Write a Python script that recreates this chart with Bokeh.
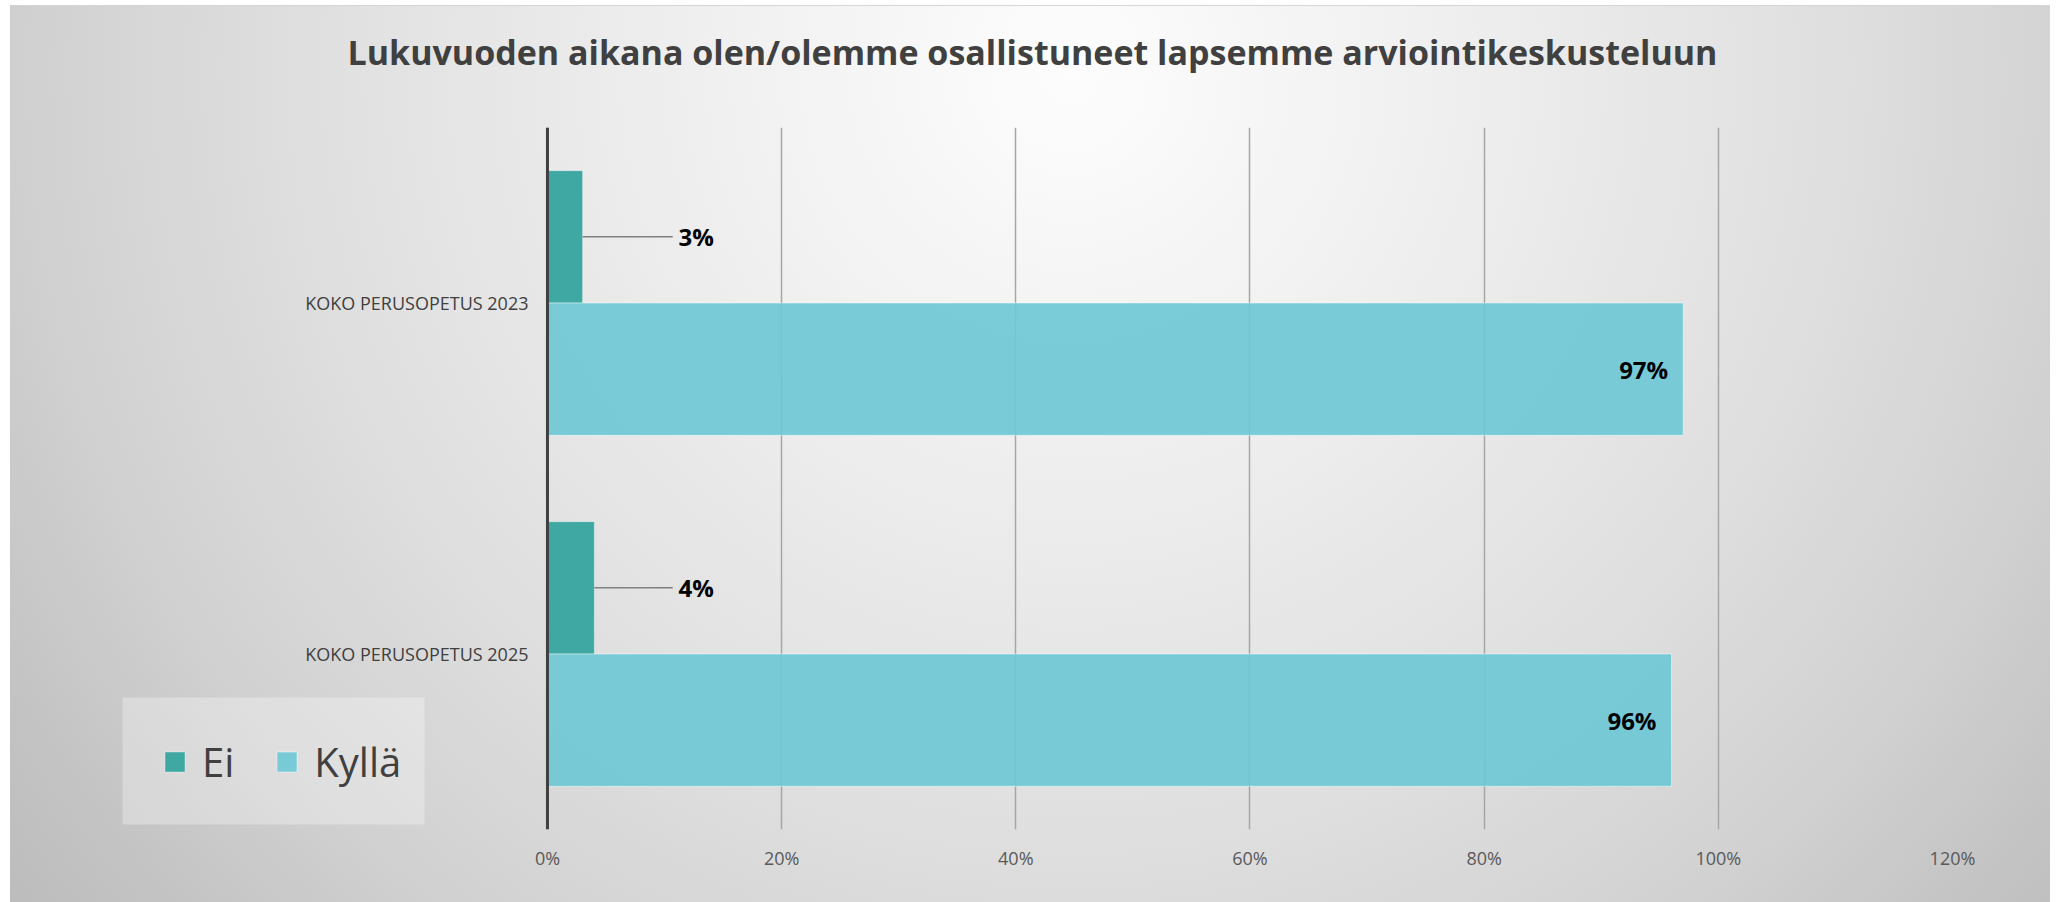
from bokeh.plotting import figure
from bokeh.models import (ColumnDataSource, FactorRange, Range1d, FixedTicker,
                          NumeralTickFormatter, Legend, LegendItem, Title, LinearAxis,
                          Span, BoxAnnotation)
from bokeh.transform import dodge
from bokeh.core.properties import value
from bokeh.embed import file_html
from bokeh.resources import INLINE

# ---------------- data ----------------
title_text = "Lukuvuoden aikana olen/olemme osallistuneet lapsemme arviointikeskusteluun"
categories = ["KOKO PERUSOPETUS 2023", "KOKO PERUSOPETUS 2025"]
series_names = ["Ei", "Kyllä"]
ei_values = [0.03, 0.04]
kylla_values = [0.97, 0.96]
x_ticks = [0.0, 0.2, 0.4, 0.6, 0.8, 1.0, 1.2]

# ---------------- layout constants ----------------
FONT = "Open Sans"
EI_COLOR = "#3fa8a3"
KYLLA_COLOR = "#6fc9d5"
BAR_H = 0.377
OFF = 0.1885
X_START = -0.3732    # room left of 0% for category labels and legend
LEADER_END = 0.107   # where the Ei leader line ends (axis units)
LABEL_X = 0.112      # where the Ei label starts (axis units)

src = ColumnDataSource(dict(
    cat=categories,
    zero=[0.0] * len(categories),
    ei=ei_values,
    kylla=kylla_values,
    ei_lbl=[f"{v:.0%}" for v in ei_values],
    kylla_lbl=[f"{v:.0%}" for v in kylla_values],
))

y_range = FactorRange(factors=categories[::-1])
p = figure(width=2058, height=902, y_range=y_range, x_range=Range1d(X_START, 1.2),
           output_backend="svg", toolbar_location=None, title=None,
           y_axis_location=None,
           min_border_left=110, min_border_right=106,
           min_border_top=127, min_border_bottom=73)

p.styles = {
    "background": "radial-gradient(circle at 52% 8%, #fdfdfd 0%, #efefef 28%, #e0e0e0 55%, #d2d2d2 75%, #c2c2c2 92%, #bcbcbc 100%)",
    "box-shadow": "inset 10px 5px 0 0 #ffffff, inset -8px 0 0 0 #ffffff, inset 10px 6px 0 0 #d4d4d4",
}
p.background_fill_alpha = 0
p.border_fill_alpha = 0
p.outline_line_color = None

# the real (bottom) x axis
xa = p.below[0]
xa.ticker = FixedTicker(ticks=x_ticks)
xa.formatter = NumeralTickFormatter(format="0%")
xa.axis_line_color = None
xa.major_tick_line_color = None
xa.minor_tick_line_color = None
xa.major_tick_out = 0
xa.major_tick_in = 0
xa.minor_tick_out = 0
xa.minor_tick_in = 0
xa.major_label_standoff = 16
xa.major_label_text_font = FONT
xa.major_label_text_font_size = "18px"
xa.major_label_text_color = "#595959"

# invisible spacer between frame and title (a blank top axis), then the title
spacer = LinearAxis(ticker=FixedTicker(ticks=[X_START]), major_tick_out=53, major_tick_in=0,
                    minor_tick_out=0, minor_tick_in=0, major_label_standoff=0,
                    major_label_text_color=None,
                    axis_line_color=None,
                    major_tick_line_color="#ffffff", major_tick_line_alpha=0.01,
                    minor_tick_line_color=None)
p.add_layout(spacer, "above")
p.add_layout(Title(text=title_text, align="left", offset=237, standoff=0,
                   text_font=FONT, text_font_size="34px", text_font_style="bold",
                   text_color="#404040"), "above")

# bars
r_ei = p.hbar(y=dodge("cat", OFF, range=y_range), left="zero", right="ei", height=BAR_H,
              source=src, fill_color=EI_COLOR, line_color="white", line_alpha=0.35, line_width=1)
r_ky = p.hbar(y=dodge("cat", -OFF, range=y_range), left="zero", right="kylla", height=BAR_H,
              source=src, fill_color=KYLLA_COLOR, fill_alpha=0.92,
              line_color="white", line_alpha=0.45, line_width=1)

# leader lines + labels for Ei
p.segment(x0="ei", y0=dodge("cat", OFF, range=y_range), x1=LEADER_END,
          y1=dodge("cat", OFF, range=y_range), source=src,
          line_color="#808080", line_width=1.5)
p.text(x=LABEL_X, y=dodge("cat", OFF, range=y_range), text="ei_lbl", source=src,
       text_font=value(FONT), text_font_style="bold", text_font_size="24px",
       text_color="black", text_align="left", text_baseline="middle")
# labels for Kyllä (inside end)
p.text(x="kylla", y=dodge("cat", -OFF, range=y_range), text="kylla_lbl", source=src,
       x_offset=-15, text_font=value(FONT), text_font_style="bold", text_font_size="24px",
       text_color="black", text_align="right", text_baseline="middle")

# category labels, next to the 0% axis line
p.text(x="zero", y="cat", text="cat", source=src, x_offset=-19,
       text_font=value(FONT), text_font_size="18px", text_color="#404040",
       text_align="right", text_baseline="middle")

# vertical axis line at 0 %
p.add_layout(Span(location=0, dimension="height", line_color="#404040", line_width=3))

p.xgrid.ticker = FixedTicker(ticks=x_ticks)
p.xgrid.grid_line_color = "#a6a6a6"
p.xgrid.grid_line_width = 1.5
p.ygrid.grid_line_color = None

# legend box + legend (inside the frame, left of the axis)
p.add_layout(BoxAnnotation(left=12, right=314, bottom=5, top=132,
                           left_units="screen", right_units="screen",
                           bottom_units="screen", top_units="screen",
                           fill_color="white", fill_alpha=0.3, line_color=None))
legend = Legend(items=[LegendItem(label=series_names[0], renderers=[r_ei]),
                       LegendItem(label=series_names[1], renderers=[r_ky])],
                orientation="horizontal", location=(52, 35), margin=0,
                padding=0, spacing=40, label_standoff=15,
                glyph_width=25, glyph_height=25, label_height=66,
                label_text_font=FONT, label_text_font_size="40px",
                label_text_color="#404040",
                background_fill_alpha=0, border_line_color=None)
p.add_layout(legend, "center")

open("out.html", "w").write(file_html(p, INLINE))
